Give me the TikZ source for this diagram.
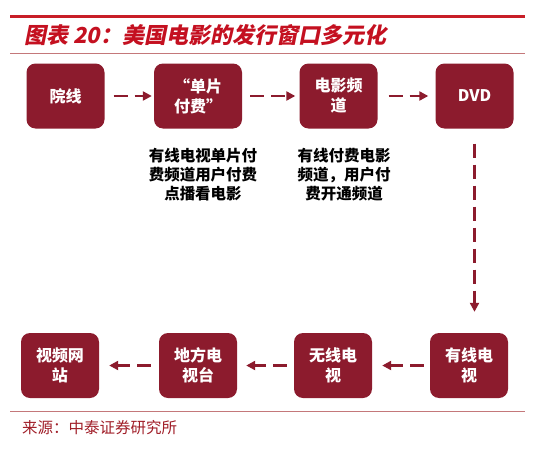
\documentclass[tikz,border=0pt]{standalone}
\usepackage{fontspec}
\setmainfont{Noto Sans CJK SC}
\newfontfamily\titlefont{Noto Sans CJK SC}[FakeSlant=0.2]
\usetikzlibrary{arrows.meta}
\definecolor{boxred}{RGB}{140,27,45}
\definecolor{titlered}{RGB}{196,16,32}
\definecolor{rulered}{RGB}{200,30,40}
\definecolor{thinred}{RGB}{196,120,122}
\definecolor{srcred}{RGB}{160,30,40}

\begin{document}
\begin{tikzpicture}[x=1pt,y=-1pt]
\tikzstyle{redbox} = [fill=boxred,rounded corners=9pt,minimum width=78pt,minimum height=65pt,inner sep=0pt,text=white,align=center,font=\fontsize{16}{20}\selectfont\bfseries]
\tikzstyle{note} = [inner sep=0pt,align=center,font=\fontsize{15.5}{19}\selectfont\bfseries]
\tikzstyle{flow} = [boxred,line width=2.5pt,dash pattern=on 14pt off 7pt,-{Triangle[length=9pt,width=9pt]}]

\useasboundingbox (0,0) rectangle (550,458);
\draw[rulered,line width=3pt] (10,16)--(525,16);
\draw[thinred,line width=1pt] (10,53)--(525,53);
\draw[thinred,line width=1pt] (10,411)--(525,411);
\node (title) at (24,35) [anchor=west,inner sep=0pt,text=titlered] {\titlefont\bfseries\fontsize{22}{26}\selectfont 图表 20：美国电影的发行窗口多元化};
\node (source) at (22,428) [anchor=west,inner sep=0pt,text=srcred] {\fontsize{15.5}{18}\selectfont 来源：中泰证券研究所};

% top row
\node (cinema) at (65.5,96) [redbox] {院线};
\node (ppv) at (198,96) [redbox,minimum width=88pt] {“单片\\付费”};
\node (paych) at (338.5,96) [redbox] {电影频\\道};
\node (dvd) at (474.5,96) [redbox] {DVD};
\node at (203,175) [note] {有线电视单片付\\费频道用户付费\\点播看电影};
\node at (344,175) [note] {有线付费电影\\频道，用户付\\费开通频道};

% bottom row
\node (web) at (60,365.5) [redbox] {视频网\\站};
\node (localtv) at (198,365.5) [redbox] {地方电\\视台};
\node (freetv) at (333,365.5) [redbox] {无线电\\视};
\node (cable) at (469,365.5) [redbox] {有线电\\视};

\draw[flow,shorten <=9pt,shorten >=2pt] (cinema)--(ppv);
\draw[flow,shorten <=8pt,shorten >=4pt] (ppv)--(paych);
\draw[flow,shorten <=11pt,shorten >=7pt] (paych)--(dvd);
\draw[flow,shorten <=15pt,shorten >=21pt] (dvd.south)--(dvd.south |- cable.north);
\draw[flow,shorten <=6pt,shorten >=10pt] (cable)--(freetv);
\draw[flow,shorten <=7pt,shorten >=9pt] (freetv)--(localtv);
\draw[flow,shorten <=8pt,shorten >=10pt] (localtv)--(web);
\end{tikzpicture}
\end{document}
